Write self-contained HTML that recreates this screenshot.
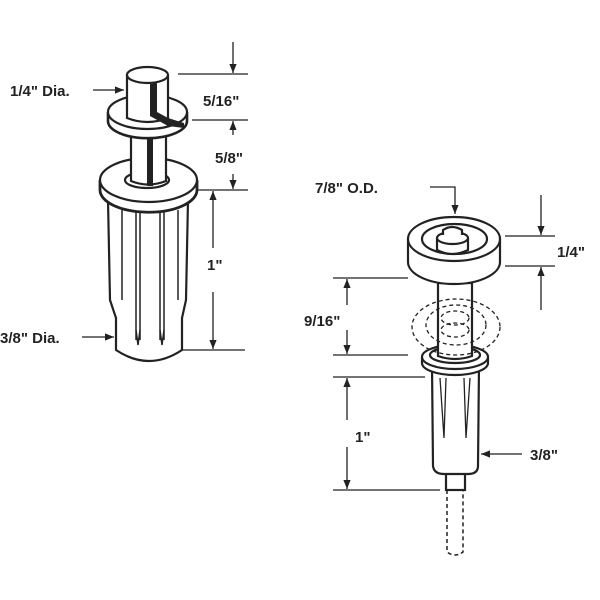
<!DOCTYPE html>
<html><head><style>
html,body{margin:0;padding:0;background:#fff;}
svg{display:block;}
text{font-family:"Liberation Sans",Arial,sans-serif;font-weight:bold;font-size:15px;fill:#222;}
</style></head><body>
<svg width="600" height="600" viewBox="0 0 600 600" xmlns="http://www.w3.org/2000/svg">
<defs>
<marker id="a" viewBox="0 0 10 10" refX="10" refY="5" markerWidth="7" markerHeight="7" orient="auto-start-reverse"><path d="M0,1 L10,5 L0,9 z" fill="#222"/></marker>
</defs>
<g stroke="#222" fill="#fff" stroke-width="2.2">
<!-- LEFT PIECE -->
<path d="M108,200 L110,300 L116,318 L116,350 Q149,372 182,350 L182,318 L186,300 L188,200 Z"/>
<g stroke-width="1.5">
<line x1="122" y1="210" x2="122" y2="300"/>
<line x1="136" y1="210" x2="136" y2="340"/><line x1="140" y1="210" x2="140" y2="340"/>
<line x1="160" y1="210" x2="160" y2="340"/><line x1="164" y1="210" x2="164" y2="340"/>
<line x1="178" y1="210" x2="178" y2="300"/>
<path d="M136,330 L138,345 L140,330 M160,330 L162,345 L164,330" fill="none"/>
</g>
<path d="M100,180 L100,190 A48,22 0 0 0 197,190 L197,180" stroke-width="2.8"/>
<ellipse cx="148.5" cy="180" rx="48.5" ry="22"/>
<ellipse cx="147" cy="180" rx="22" ry="8"/>
<path d="M131,130 L131,181 Q148,188 166,181 L166,130 Z"/>
<rect x="147" y="130" width="6" height="56" fill="#222" stroke="none"/>
<path d="M108,112 L108,121 A39,17 0 0 0 187,121 L187,112" stroke-width="2.6"/>
<ellipse cx="147.5" cy="112" rx="39.5" ry="17"/>
<path d="M127,75 L127,118 Q147,126 168,118 L168,75"/>
<ellipse cx="147.5" cy="75" rx="20.5" ry="8"/>
<path d="M150,84 L150,116 L168,126 L184,128 L184,123 L168,118 L157,112 L157,83 Z" fill="#222" stroke="none"/>
</g>
<g stroke="#222" stroke-width="1.3" fill="none">
<line x1="178" y1="74" x2="248" y2="74"/>
<line x1="233" y1="42" x2="233" y2="73" marker-end="url(#a)"/>
<line x1="192" y1="120" x2="248" y2="120"/>
<line x1="233" y1="121" x2="233" y2="135" marker-start="url(#a)"/>
<line x1="233" y1="174" x2="233" y2="189" marker-end="url(#a)"/>
<line x1="198" y1="190" x2="248" y2="190"/>
<line x1="213" y1="191" x2="213" y2="248" marker-start="url(#a)"/>
<line x1="213" y1="292" x2="213" y2="349" marker-end="url(#a)"/>
<line x1="183" y1="350" x2="245" y2="350"/>
<line x1="93" y1="90" x2="124" y2="90" marker-end="url(#a)"/>
<line x1="82" y1="337" x2="114" y2="337" marker-end="url(#a)"/>
</g>
<text x="10" y="96">1/4" Dia.</text>
<text x="0" y="343">3/8" Dia.</text>
<text x="203" y="106">5/16"</text>
<text x="215" y="163">5/8"</text>
<text x="207" y="270">1"</text>

<!-- RIGHT PIECE -->
<g stroke="#222" fill="#fff" stroke-width="2.2">
<path d="M447,490 L447,552 Q455,558 463,552 L463,490" stroke-dasharray="4,3" stroke-width="1.5"/>
<rect x="446" y="470" width="19" height="20"/>
<path d="M432,365 L433,466 Q434,474 444,474 L468,474 Q478,474 478,466 L479,365 Z"/>
<g stroke-width="1.3" fill="none">
<path d="M440,378 L444,438 L446,378 M464,378 L466,438 L470,378"/>
</g>
<path d="M422,357 L422,363 A33,12 0 0 0 488,363 L488,357"/>
<ellipse cx="455" cy="357" rx="33" ry="12"/>
<ellipse cx="455" cy="355" rx="25" ry="8"/>
<path d="M438,283 L438,356 Q455,362 472,356 L472,283 Z"/>
<g fill="none" stroke-width="1.3" stroke-dasharray="4,3">
<ellipse cx="456" cy="327" rx="44" ry="28"/>
<ellipse cx="456" cy="325" rx="30" ry="20"/>
<ellipse cx="455" cy="318" rx="14" ry="7"/>
<ellipse cx="455" cy="330" rx="14" ry="7"/>
</g>
<path d="M408,239 L408,262 A46,22 0 0 0 500,262 L500,239"/>
<ellipse cx="454" cy="239" rx="46" ry="22"/>
<ellipse cx="454.5" cy="239" rx="32.5" ry="15"/>
<path d="M437,238 L437,250 Q452,258 468,250 L468,238"/>
<ellipse cx="452.5" cy="238" rx="15.5" ry="6"/>
<path d="M443,235 L443,230 Q452,224 462,230 L462,235"/>
</g>
<g stroke="#222" stroke-width="1.3" fill="none">
<path d="M430,187 L455,187 L455,214" marker-end="url(#a)"/>
<line x1="541" y1="195" x2="541" y2="235" marker-end="url(#a)"/>
<line x1="505" y1="236" x2="555" y2="236"/>
<line x1="505" y1="266" x2="555" y2="266"/>
<line x1="541" y1="310" x2="541" y2="267" marker-end="url(#a)"/>
<line x1="333" y1="278" x2="408" y2="278"/>
<line x1="333" y1="355" x2="408" y2="355"/>
<line x1="347" y1="279" x2="347" y2="305" marker-start="url(#a)"/>
<line x1="347" y1="330" x2="347" y2="354" marker-end="url(#a)"/>
<line x1="333" y1="377" x2="425" y2="377"/>
<line x1="333" y1="490" x2="440" y2="490"/>
<line x1="347" y1="378" x2="347" y2="420" marker-start="url(#a)"/>
<line x1="347" y1="447" x2="347" y2="489" marker-end="url(#a)"/>
<line x1="522" y1="454" x2="481" y2="454" marker-end="url(#a)"/>
</g>
<text x="315" y="193">7/8" O.D.</text>
<text x="557" y="257">1/4"</text>
<text x="304" y="326">9/16"</text>
<text x="355" y="442">1"</text>
<text x="530" y="460">3/8"</text>
</svg>
</body></html>
